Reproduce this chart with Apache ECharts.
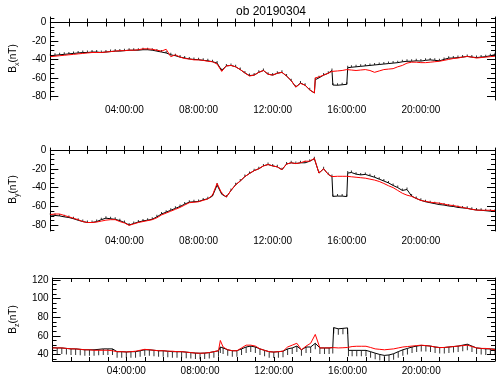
<!DOCTYPE html>
<html>
<head>
<meta charset="utf-8">
<script src="https://cdn.jsdelivr.net/npm/echarts@6/dist/echarts.min.js"></script>
<style>
  html, body { margin: 0; padding: 0; background: #fff; }
  #chart { width: 500px; height: 378px; }
</style>
</head>
<body>
<div id="chart"></div>
<script>
// hours of day (UT) and field values in nT
const bxHours = [0, 0.25, 0.5, 0.75, 1, 1.25, 1.5, 1.75, 2, 2.25, 2.5, 2.75, 3, 3.25, 3.5, 3.75, 4, 4.25, 4.5, 4.75, 5, 5.25, 5.5, 5.75, 6, 6.25, 6.5, 6.75, 7, 7.25, 7.5, 7.75, 8, 8.25, 8.5, 8.75, 9, 9.25, 9.5, 9.75, 10, 10.25, 10.5, 10.75, 11, 11.25, 11.5, 11.75, 12, 12.25, 12.5, 12.75, 13, 13.25, 13.5, 13.75, 14, 14.25, 14.3, 14.5, 14.75, 15, 15.2, 15.25, 15.5, 15.75, 16, 16.05, 16.25, 16.5, 16.75, 17, 17.25, 17.5, 17.75, 18, 18.25, 18.5, 18.75, 19, 19.25, 19.5, 19.75, 20, 20.25, 20.5, 20.75, 21, 21.25, 21.5, 21.75, 22, 22.25, 22.5, 22.75, 23, 23.25, 23.5, 23.75, 24];
const bxBlack = [-36, -35.5, -35, -34.5, -34, -33.5, -33, -32.5, -32.5, -32, -32, -32.5, -32, -31.5, -31, -31, -30.5, -30, -30, -30, -29.5, -29.5, -30, -31, -32, -33, -35, -36, -37.5, -38.5, -39.5, -40, -40.3, -41, -41.5, -42.5, -44, -52, -47, -46.5, -48, -51, -54.7, -57.5, -57, -54, -52, -56, -57, -55, -54, -58, -63, -70, -65.6, -68, -73, -76.4, -62, -60, -57, -55, -52, -67.8, -68, -67.5, -67, -49, -48.5, -48, -47.5, -47, -46.5, -46, -45.5, -45, -44.5, -44, -43.5, -42.6, -42, -42, -41.5, -41.8, -41, -40.5, -41, -41.5, -40, -38.6, -38.5, -38, -37.5, -36.7, -37.5, -38, -37.5, -37, -36, -34.8];
const bxRed = [-37, -36.5, -36, -35.5, -35, -34.5, -34, -33.5, -33, -32.5, -32.5, -32.5, -32, -31.5, -31, -30.5, -30.5, -30, -30, -29.5, -28.5, -28.5, -29, -30, -31, -29, -37, -35, -37.5, -39, -39.5, -40.5, -40.5, -41, -42, -42.5, -45, -53, -47, -46.5, -48, -51, -54.7, -58, -57, -54, -52, -56, -57, -55, -54, -58, -63, -70, -66, -68, -73, -76.4, -60, -59, -57, -55, -53, -53, -52.5, -52, -51, -51, -51.5, -52, -51.5, -51, -52, -54, -52.5, -51, -50.5, -50, -48, -46.5, -44, -43, -43, -43.5, -43.5, -43, -42.5, -42, -41, -40, -39, -38.5, -37.5, -36.8, -37.5, -38.5, -38, -37.5, -37, -36.5];

const byHours = [0, 0.25, 0.5, 0.75, 1, 1.25, 1.5, 1.75, 2, 2.25, 2.5, 2.75, 3, 3.25, 3.5, 3.75, 4, 4.25, 4.5, 4.75, 5, 5.25, 5.5, 5.75, 6, 6.25, 6.5, 6.75, 7, 7.25, 7.5, 7.75, 8, 8.25, 8.5, 8.75, 9, 9.25, 9.5, 9.75, 10, 10.25, 10.5, 10.75, 11, 11.25, 11.5, 11.75, 12, 12.25, 12.5, 12.75, 13, 13.25, 13.5, 13.75, 14, 14.25, 14.5, 14.75, 15, 15.2, 15.25, 15.5, 15.75, 16, 16.05, 16.25, 16.5, 16.75, 17, 17.25, 17.5, 17.75, 18, 18.25, 18.5, 18.75, 19, 19.25, 19.5, 19.75, 20, 20.25, 20.5, 20.75, 21, 21.25, 21.5, 21.75, 22, 22.25, 22.5, 22.75, 23, 23.25, 23.5, 23.75, 24];
const byBlack = [-69, -69.5, -70, -71, -71.7, -73, -74.6, -76, -77, -77, -76, -74, -72.4, -73, -73.6, -75, -77, -79.7, -78, -76.5, -75.3, -74.5, -73.6, -71, -68, -66, -64, -62, -60, -57.5, -55.4, -55, -54.7, -53, -51.8, -49, -37.3, -47, -50, -43, -37, -33, -28.3, -25, -22, -20, -17, -15.5, -17, -18, -21, -15, -13.7, -14.5, -13.7, -13.7, -12, -9.4, -24.6, -20, -26, -28.3, -49.3, -49, -49, -49.5, -24.6, -24, -25.7, -26.5, -26, -27.5, -29, -31, -33, -35, -37.7, -40, -43, -42, -49, -51.5, -53.5, -55, -56, -57, -58, -58.5, -59.5, -60, -61, -61.5, -62, -63, -63.8, -64, -64.5, -65, -65];
const byRed = [-68.5, -68, -68, -69.5, -71, -72.5, -74, -76, -77, -77, -76.5, -75.5, -74.5, -74, -74, -76, -77.5, -80, -78.5, -77, -76, -75, -74, -72, -69, -67, -65, -63, -61, -58.5, -56, -55.5, -55, -53.5, -52, -48, -35.5, -46, -50, -43, -37, -33, -28.3, -25, -22, -20, -17, -15.5, -17, -18, -21, -15, -13.7, -14.5, -13.7, -12, -12, -9, -24.6, -20, -26, -28.3, -28.3, -28, -28, -28, -28, -28.5, -29, -29.5, -30, -31, -32, -33.5, -35.6, -38, -40, -43, -46, -48, -49.3, -51.5, -53.6, -54.5, -55.5, -56, -56.5, -57.5, -58.5, -59, -60, -61, -62, -63, -63.8, -64, -64, -64, -64.5];

const bzHours = [0, 0.25, 0.5, 0.75, 1, 1.25, 1.5, 1.75, 2, 2.25, 2.5, 2.75, 3, 3.25, 3.5, 3.75, 4, 4.25, 4.5, 4.75, 5, 5.25, 5.5, 5.75, 6, 6.25, 6.5, 6.75, 7, 7.25, 7.5, 7.75, 8, 8.25, 8.5, 8.75, 9, 9.1, 9.25, 9.5, 9.75, 10, 10.25, 10.5, 10.75, 11, 11.25, 11.5, 11.75, 12, 12.25, 12.5, 12.75, 13, 13.25, 13.5, 13.75, 14, 14.25, 14.5, 14.75, 15, 15.2, 15.25, 15.5, 15.75, 16, 16.05, 16.25, 16.5, 16.75, 17, 17.25, 17.5, 17.75, 18, 18.25, 18.5, 18.75, 19, 19.25, 19.5, 19.75, 20, 20.25, 20.5, 20.75, 21, 21.25, 21.5, 21.75, 22, 22.25, 22.5, 22.75, 23, 23.25, 23.5, 23.75, 24];
const bzBlack = [47.3, 47, 47, 46.5, 46, 46, 45.5, 45, 45, 45, 45.5, 46, 46, 46, 43, 43, 42.7, 43, 43, 44, 45, 45, 44.5, 44, 44, 43.5, 43, 43, 43, 42.5, 42, 41.5, 41.3, 41.5, 42, 43, 44, 48, 47, 45, 44, 44, 46, 48, 49, 48, 46, 44.4, 43, 42.6, 43, 43.5, 46, 47, 49, 45, 48, 48, 52, 47, 47, 47, 47.4, 68.8, 67.5, 68, 68.5, 44.4, 44.4, 44.4, 44.4, 44.4, 43, 41.4, 40, 39, 39.5, 40.8, 43, 45, 46.5, 48, 49, 49.7, 49.5, 49, 48, 47.4, 47.5, 48, 48.5, 49, 50, 51, 49, 47, 46.5, 46, 46, 45.8];
const bzRed = [47, 47, 47, 46.5, 46, 46, 45.5, 45, 45, 44.5, 44.5, 44.5, 44.5, 44, 43, 43, 42.7, 43, 43.5, 44.5, 45.5, 45, 44.5, 44, 44, 43.5, 43.5, 43, 43, 42.5, 42, 41.5, 41.3, 41.5, 42, 43, 44, 55, 48, 45, 44, 44, 47, 50, 50, 49, 46, 44.4, 43, 42.6, 43, 43.5, 48, 50, 52, 45, 49, 52, 61.5, 47, 47, 47, 47.4, 47.4, 47, 47.2, 47.5, 48, 48.5, 48.8, 48.8, 48.8, 47.5, 46, 45.5, 45, 45.5, 46, 47, 48, 48.5, 49, 49.5, 50, 49.5, 49, 48, 47.4, 47.5, 48, 48.5, 49, 49.5, 50, 48.5, 47, 46.5, 46.5, 46, 45];

// axis ticks
const hourLabels = [4, 8, 12, 16, 20];
const hourTicks = [1, 2, 3, 4, 5, 6, 7, 8, 9, 10, 11, 12, 13, 14, 15, 16, 17, 18, 19, 20, 21, 22, 23];
const bxTicks = [-80, -60, -40, -20, 0];
const byTicks = [-80, -60, -40, -20, 0];
const bzTicks = [40, 60, 80, 100, 120];

const FONT = 'Liberation Sans';
const panels = [
  { comp: 'x', hours: bxHours, black: bxBlack, red: bxRed, ticks: bxTicks, min: -84, max: 6, top: 17, spike: -2 },
  { comp: 'y', hours: byHours, black: byBlack, red: byRed, ticks: byTicks, min: -86, max: 2, top: 148, spike: -2 },
  { comp: 'z', hours: bzHours, black: bzBlack, red: bzRed, ticks: bzTicks, min: 33, max: 122, top: 278, spike: 6 }
];

const pairs = (t, v) => t.map((h, i) => [h, v[i]]);
const hhmmss = (h) => (h < 10 ? '0' + h : '' + h) + ':00:00';
const minorOf = (ticks, min, max) => {
  const out = [];
  for (let v = ticks[0] - 20; v <= max; v += 5) if (v >= min) out.push(v);
  return out;
};

const grid = [], xAxis = [], yAxis = [], series = [];
const line = { show: true, lineStyle: { color: '#000', width: 1 } };

panels.forEach((p, i) => {
  grid.push({ left: 37, right: 5, top: p.top, height: 83 });
  ['bottom', 'top'].forEach((pos) => {
    xAxis.push({
      type: 'value', gridIndex: i, position: pos, min: 0, max: 24,
      axisLine: line,
      axisTick: { inside: true, length: 4, customValues: hourTicks, lineStyle: { color: '#000' } },
      axisLabel: pos === 'bottom'
        ? { customValues: hourLabels, formatter: hhmmss, color: '#000', fontSize: 10, fontFamily: FONT, margin: 5 }
        : { show: false },
      splitLine: { show: false }
    });
  });
  ['left', 'right'].forEach((pos) => {
    yAxis.push({
      type: 'value', gridIndex: i, position: pos, min: p.min, max: p.max,
      axisLine: line,
      axisTick: { inside: true, length: 8, customValues: p.ticks, lineStyle: { color: '#000' } },
      axisLabel: pos === 'left'
        ? { customValues: p.ticks, color: '#000', fontSize: 10, fontFamily: FONT, margin: 4 }
        : { show: false },
      splitLine: { show: false },
      name: pos === 'left' ? '{b|B}{s|' + p.comp + '}{b|(nT)}' : '',
      nameLocation: 'middle', nameRotate: 90, nameGap: 20,
      nameTextStyle: {
        color: '#000', fontFamily: FONT,
        rich: {
          b: { fontSize: 10, lineHeight: 12, fontFamily: FONT, color: '#000' },
          s: { fontSize: 7, lineHeight: 16, verticalAlign: 'bottom', fontFamily: FONT, color: '#000' }
        }
      }
    });
    // minor ticks every 5 nT
    yAxis.push({
      type: 'value', gridIndex: i, position: pos, min: p.min, max: p.max,
      axisLine: { show: false },
      axisTick: { inside: true, length: 4, customValues: minorOf(p.ticks, p.min, p.max), lineStyle: { color: '#000' } },
      axisLabel: { show: false },
      splitLine: { show: false }
    });
  });

  const xi = i * 2, yi = i * 4;
  series.push({
    type: 'line', xAxisIndex: xi, yAxisIndex: yi, data: pairs(p.hours, p.black),
    showSymbol: false, lineStyle: { color: '#000', width: 1 }, z: 2
  });
  // the black trace carries short tick marks at each sample
  series.push({
    type: 'scatter', xAxisIndex: xi, yAxisIndex: yi, data: pairs(p.hours, p.black),
    symbol: 'rect', symbolSize: [1, Math.abs(p.spike)], symbolOffset: [0, p.spike > 0 ? '50%' : '-50%'],
    itemStyle: { color: '#000' }, z: 2
  });
  series.push({
    type: 'line', xAxisIndex: xi, yAxisIndex: yi, data: pairs(p.hours, p.red),
    showSymbol: false, lineStyle: { color: '#ff0000', width: 1 }, z: 3
  });
});

const chart = echarts.init(document.getElementById('chart'), null, { renderer: 'canvas' });
chart.setOption({
  animation: false,
  backgroundColor: '#fff',
  title: {
    text: 'ob 20190304', left: 266, top: 1, textAlign: 'center',
    textStyle: { fontSize: 12, fontWeight: 'normal', color: '#000', fontFamily: FONT }
  },
  grid, xAxis, yAxis, series
});
</script>
</body>
</html>
